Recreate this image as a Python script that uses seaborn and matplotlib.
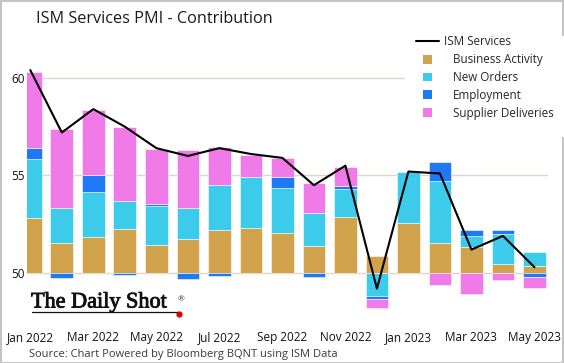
import numpy as np
import pandas as pd
import matplotlib
matplotlib.use("Agg")
import matplotlib.pyplot as plt
import matplotlib.patheffects as pe
import seaborn as sns
from matplotlib.lines import Line2D
from matplotlib.patches import Patch, Rectangle

# ISM Services PMI and component contributions (points above/below 50)
months = ["Jan 2022", "Feb 2022", "Mar 2022", "Apr 2022", "May 2022", "Jun 2022",
          "Jul 2022", "Aug 2022", "Sep 2022", "Oct 2022", "Nov 2022", "Dec 2022",
          "Jan 2023", "Feb 2023", "Mar 2023", "Apr 2023", "May 2023"]
ism = [60.4, 57.2, 58.4, 57.5, 56.4, 56.0, 56.4, 56.1, 55.9, 54.5, 55.5, 49.2,
       55.2, 55.1, 51.2, 51.9, 50.3]
business = [2.80, 1.54, 1.85, 2.27, 1.42, 1.76, 2.22, 2.31, 2.05, 1.36, 2.87, 0.85,
            2.56, 1.54, 1.33, 0.48, 0.34]
new_orders = [3.05, 1.79, 2.30, 1.44, 2.03, 1.55, 2.27, 2.61, 2.31, 1.72, 1.44, -1.20,
              2.60, 3.16, 0.55, 1.54, 0.74]
employment = [0.54, -0.26, 0.88, -0.10, 0.09, -0.31, -0.14, 0.0, 0.56, -0.20, 0.17, -0.14,
              0.0, 0.99, 0.31, 0.17, -0.20]
supplier = [3.93, 4.05, 3.33, 3.78, 2.82, 3.01, 1.95, 1.15, 0.98, 1.54, 0.96, -0.46,
            0.0, -0.60, -1.06, -0.34, -0.56]

components = ["Business Activity", "New Orders", "Employment", "Supplier Deliveries"]
colors = ["#D1A24C", "#3CCBEB", "#1D79F6", "#EF7AE8"]

sns.set_theme(style="white")
plt.rcParams["font.family"] = ["Open Sans", "DejaVu Sans"]

W, H = 564, 363
fig = plt.figure(figsize=(W / 100, H / 100), dpi=100)
ax = fig.add_axes([27 / W, 1 - 312 / H, (548 - 27) / W, (312 - 35) / H])

x = np.arange(len(months))
pos_base = np.zeros(len(x))
neg_base = np.zeros(len(x))
for name, vals, col in zip(components, [business, new_orders, employment, supplier], colors):
    v = np.array(vals)
    for sign in (1, -1):
        m = (v * sign) > 0
        base = pos_base if sign == 1 else neg_base
        ax.bar(x[m], v[m], bottom=50 + base[m], width=0.72, color=col,
               edgecolor=(1, 1, 1, 0.55), linewidth=0.7, zorder=2)
    pos_base += np.where(v > 0, v, 0)
    neg_base += np.where(v < 0, v, 0)

df = pd.DataFrame({"x": x, "ism": ism})
sns.lineplot(data=df, x="x", y="ism", color="black", linewidth=1.5, ax=ax, zorder=3)

ax.set_xlim(-0.105, 16.43)
ax.set_ylim(48.0, 62.2)
ax.set_yticks([50, 55, 60])
ax.yaxis.grid(True, color="#DDD6CB", linewidth=1.0)
ax.set_axisbelow(True)
ax.set_xticks(x[::2])
ax.set_xticklabels(months[::2])
ax.tick_params(axis="x", length=0, pad=14, labelsize=8.5, colors="#111111")
ax.tick_params(axis="y", length=0, pad=1.5, labelsize=8.5, colors="#111111")
ax.set_xlabel("")
ax.set_ylabel("")
sns.despine(ax=ax, left=True, bottom=True)

# legends
fs = 8.4
patch_handles = [Patch(facecolor=c, edgecolor="none") for c in colors]
leg2 = fig.legend(patch_handles, components, loc="upper left",
                  bbox_to_anchor=(405 / W, 1 - 36 / H), fontsize=fs, frameon=True,
                  facecolor="white", edgecolor="none", framealpha=1, fancybox=False,
                  borderpad=1.5, borderaxespad=0, handlelength=0.78, handleheight=0.78,
                  handletextpad=1.8, labelspacing=0.4)
leg1 = fig.legend([Line2D([], [], color="black", lw=1.5)], ["ISM Services"],
                  loc="center left", bbox_to_anchor=(416 / W, 1 - 41.5 / H), fontsize=fs,
                  frameon=False, borderpad=0, borderaxespad=0, handlelength=2.0,
                  handletextpad=0.43)

# titles and branding
fig.text(36 / W, 1 - 19 / H, "ISM Services PMI - Contribution", fontsize=11.7,
         va="center", ha="left", color="#1a1a1a")
fig.text(29 / W, 1 - 355 / H, "Source: Chart Powered by Bloomberg BQNT using ISM Data",
         fontsize=8, va="center", ha="left", color="#3a3a3a")
fig.text(31 / W, 1 - 307.5 / H, "The Daily Shot", family="Liberation Serif", fontsize=16,
         va="baseline", ha="left", color="#111111",
         path_effects=[pe.withStroke(linewidth=0.6, foreground="#111111")])
fig.text(178 / W, 1 - 299 / H, "®", family="Liberation Serif", fontsize=6.5,
         va="center", ha="left", color="#111111")
fig.add_artist(Line2D([32 / W, 178 / W], [1 - 311.5 / H, 1 - 311.5 / H], color="#111111",
                      lw=0.9, transform=fig.transFigure))
fig.add_artist(Line2D([179 / W], [1 - 313.5 / H], marker="o", markersize=3.5,
                      color="#E00000", transform=fig.transFigure))
fig.add_artist(Rectangle((0.001, 0.001), 0.997, 0.997, transform=fig.transFigure,
                         fill=False, edgecolor="#C4C4C4", linewidth=1.5))

fig.savefig("out.png", dpi=100)
